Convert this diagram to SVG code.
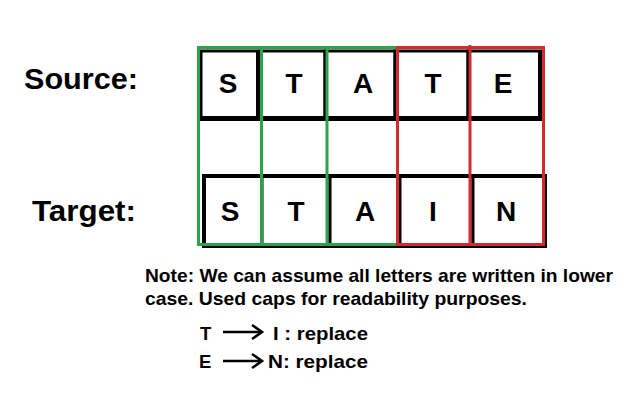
<svg xmlns="http://www.w3.org/2000/svg" width="635" height="404" viewBox="0 0 635 404">
<style>
.lbl{font-family:"Liberation Sans",Arial,sans-serif;font-weight:bold;fill:#000;}
.big{font-size:30px;}
.ch{font-size:28px;text-anchor:middle;}
.note{font-size:18.5px;}
.cell{fill:#fff;stroke:#000;stroke-width:3;}
.bar{fill:#000;}
.g{fill:none;stroke:#2aa44a;stroke-width:3;}
.r{fill:none;stroke:#d22b2f;stroke-width:3;}
.arr{fill:none;stroke:#000;stroke-width:2.5;}
</style>
<rect width="635" height="404" fill="#fff"/>
<text class="lbl big" x="24" y="89" textLength="114" lengthAdjust="spacingAndGlyphs">Source:</text>
<text class="lbl big" x="32" y="221" textLength="104" lengthAdjust="spacingAndGlyphs">Target:</text>
<g id="source-row">
  <rect class="cell" x="201" y="51" width="57" height="67"/>
  <rect class="cell" x="260" y="51" width="65" height="67"/>
  <rect class="cell" x="325" y="51" width="70" height="67"/>
  <rect class="cell" x="395" y="51" width="73" height="67"/>
  <rect class="cell" x="468" y="51" width="73" height="67"/>
  <rect class="bar" x="200" y="116" width="343" height="5"/>
  <rect class="bar" x="256" y="51" width="3" height="68"/>
  <rect class="bar" x="538" y="51" width="5" height="70"/>
  <text class="lbl ch" x="228" y="93">S</text>
  <text class="lbl ch" x="294" y="93">T</text>
  <text class="lbl ch" x="363" y="93">A</text>
  <text class="lbl ch" x="433" y="93">T</text>
  <text class="lbl ch" x="503" y="93">E</text>
</g>
<g id="target-row">
  <rect class="cell" x="204" y="176" width="58" height="69"/>
  <rect class="cell" x="262" y="176" width="68" height="69"/>
  <rect class="cell" x="330" y="176" width="70" height="69"/>
  <rect class="cell" x="400" y="176" width="73" height="69"/>
  <rect class="cell" x="473" y="176" width="72" height="69"/>
  <rect class="bar" x="202" y="174" width="345" height="4"/>
  <rect class="bar" x="202" y="174" width="4" height="74"/>
  <rect class="bar" x="202" y="244" width="345" height="4"/>
  <rect class="bar" x="543" y="174" width="4" height="74"/>
  <text class="lbl ch" x="230" y="221">S</text>
  <text class="lbl ch" x="296" y="221">T</text>
  <text class="lbl ch" x="365" y="221">A</text>
  <text class="lbl ch" x="433" y="221">I</text>
  <text class="lbl ch" x="506" y="221">N</text>
</g>
<g id="green-group">
  <rect class="g" x="198.5" y="47.5" width="199" height="197"/>
  <line class="g" x1="261.5" y1="47" x2="261.5" y2="245"/>
  <line class="g" x1="327" y1="47" x2="327" y2="245"/>
</g>
<g id="red-group">
  <rect class="r" x="397.5" y="47.5" width="146" height="197"/>
  <line class="r" x1="470" y1="45" x2="470" y2="245"/>
</g>
<g id="note">
  <text class="lbl note" x="145" y="282" textLength="468" lengthAdjust="spacingAndGlyphs">Note: We can assume all letters are written in lower</text>
  <text class="lbl note" x="145" y="305" textLength="382" lengthAdjust="spacingAndGlyphs">case. Used caps for readability purposes.</text>
</g>
<g id="connectors">
  <line class="arr" x1="223" y1="332" x2="262" y2="332"/>
  <polyline class="arr" points="252,325 262,332 252,339"/>
  <line class="arr" x1="223" y1="361" x2="262" y2="361"/>
  <polyline class="arr" points="252,354 262,361 252,368"/>
</g>
<g id="rule1">
  <text class="lbl note" x="200" y="340">T</text>
  <text class="lbl note" x="273" y="340" textLength="95" lengthAdjust="spacingAndGlyphs">I : replace</text>
</g>
<g id="rule2">
  <text class="lbl note" x="199" y="368">E</text>
  <text class="lbl note" x="268" y="368" textLength="100" lengthAdjust="spacingAndGlyphs">N: replace</text>
</g>
</svg>
